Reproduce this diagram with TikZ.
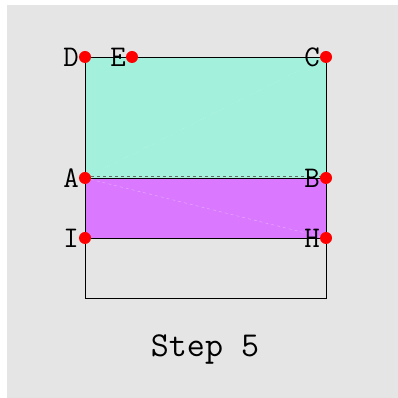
\documentclass[tikz,border=0pt]{standalone}
\usetikzlibrary{positioning}
\definecolor{bggray}{HTML}{E5E5E5}
\definecolor{fillmint}{HTML}{A3F0DC}
\definecolor{fillviolet}{HTML}{DA78FF}
\tikzstyle{pnt} = [circle,fill=red,inner sep=0pt,minimum size=12pt]
\tikzstyle{lbl} = [anchor=east,inner sep=0pt,xshift=-6pt,font=\ttfamily\fontsize{30}{30}\selectfont]

\begin{document}
\begin{tikzpicture}
		[
		x=1pt,y=1pt,
		side/.style={draw=black,line width=0.8pt},
		guide/.style={line width=0.5pt}
		]
		\useasboundingbox (0,0) rectangle (398,398);
		\fill[bggray] (7,0) rectangle (398,393);
		% corners of the sheet
		\coordinate (D) at (85,341);
		\coordinate (E) at (132,341);
		\coordinate (C) at (326,341);
		\coordinate (A) at (85,220);
		\coordinate (B) at (326,220);
		\coordinate (I) at (85,160);
		\coordinate (H) at (326,160);
		\coordinate (lowL) at (85,100);
		\coordinate (lowR) at (326,100);
		% folded parts
		\fill[fillmint] (A) rectangle (C);
		\draw[guide,dotted,white!35!fillmint] (A) -- (C);
		\draw[guide,dashed,black!60] ([yshift=2pt]A) -- ([yshift=2pt]B);
		\draw[side,fill=fillviolet] (I) rectangle (B);
		\draw[guide,dashed,white!35!fillviolet] (A) -- (H);
		\draw[side] (D) -- (C) -- (lowR) -- (lowL) -- cycle;
		% points and names
		\foreach \p in {D,E,C,A,B,I,H}{
			\node[pnt] (dot\p) at (\p) {};
			\node[lbl] (lab\p) at (\p) {\p};
		}
		\node[anchor=base,font=\ttfamily\fontsize{35}{35}\selectfont] (step) at (205,41) {Step 5};
\end{tikzpicture}
\end{document}
